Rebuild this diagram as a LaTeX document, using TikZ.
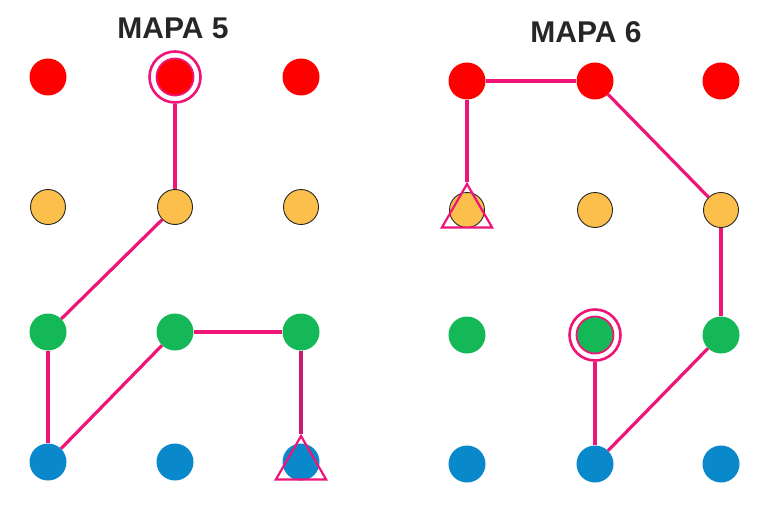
\documentclass[tikz,border=0pt]{standalone}
\usepackage{fontspec}
\setmainfont{Liberation Sans}
\usetikzlibrary{shapes.geometric}
\definecolor{dotred}{HTML}{FF0000}
\definecolor{dotorange}{HTML}{FDBF4B}
\definecolor{dotgreen}{HTML}{14B856}
\definecolor{dotblue}{HTML}{0A88CC}
\definecolor{routepink}{HTML}{EE1478}
\definecolor{routedark}{HTML}{C81A74}
\tikzset{
    dot/.style={circle, inner sep=0pt, minimum size=37pt},
    reddot/.style={dot, fill=dotred},
    orangedot/.style={dot, fill=dotorange, draw=black!85, line width=0.9pt, minimum size=35pt},
    greendot/.style={dot, fill=dotgreen},
    bluedot/.style={dot, fill=dotblue},
    route/.style={routepink, line width=3.2pt},
    startring/.style={circle, draw=routepink, line width=2.6pt, minimum size=51pt, inner sep=0pt},
    endmark/.style={regular polygon, regular polygon sides=3, draw=routepink, line width=2.2pt, minimum size=58pt, inner sep=0pt},
    title/.style={font=\fontsize{30}{32}\selectfont\bfseries, text=black!85}
}
\begin{document}
\begin{tikzpicture}[x=1pt, y=-1pt]
\useasboundingbox (0,0) rectangle (770,505);
\node[title] (t5) at (173,28) {MAPA 5};
\node[title] (t6) at (586,32) {MAPA 6};
% MAPA 5: punkty
\foreach \c/\x in {1/48,2/175,3/301} {
    \node[reddot] (m5-1-\c) at (\x,77) {};
    \node[orangedot] (m5-2-\c) at (\x,207) {};
    \node[greendot] (m5-3-\c) at (\x,332) {};
    \node[bluedot] (m5-4-\c) at (\x,462) {};
}
% MAPA 6: punkty
\foreach \c/\x in {1/467,2/595,3/721} {
    \node[reddot] (m6-1-\c) at (\x,81) {};
    \node[orangedot] (m6-2-\c) at (\x,210) {};
    \node[greendot] (m6-3-\c) at (\x,335) {};
    \node[bluedot] (m6-4-\c) at (\x,464) {};
}
% start i koniec
\node[startring] (s5) at (m5-1-2) {};
\node[startring] (s6) at (m6-3-2) {};
\node[endmark] (e5) at (301,465) {};
\node[endmark] (e6) at (467,213) {};
\draw[routepink, line width=1.8pt] (m5-1-2) circle (18.5pt); % obwodka startu
\draw[routepink, line width=1.8pt] (m6-3-2) circle (18.5pt);
% MAPA 5: trasa
\draw[route] (s5) -- (m5-2-2);
\draw[route] (m5-2-2) -- (m5-3-1);
\draw[route] (m5-3-1) -- (m5-4-1);
\draw[route] (m5-4-1) -- (m5-3-2);
\draw[route] (m5-3-2) -- (m5-3-3);
\draw[route, routedark] (m5-3-3) -- (e5.corner 1);
% MAPA 6: trasa
\draw[route] (s6) -- (m6-4-2);
\draw[route] (m6-4-2) -- (m6-3-3);
\draw[route] (m6-3-3) -- (m6-2-3);
\draw[route] (m6-2-3) -- (m6-1-2);
\draw[route] (m6-1-2) -- (m6-1-1);
\draw[route] (m6-1-1) -- (e6.corner 1);
\end{tikzpicture}
\end{document}
